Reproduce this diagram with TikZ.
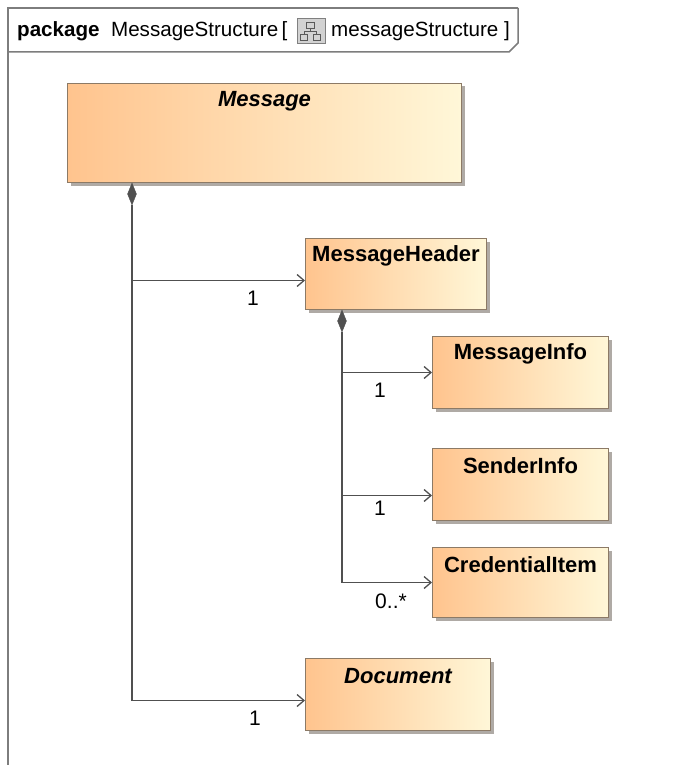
\documentclass[tikz,border=0pt]{standalone}
\usepackage{fontspec}
\setmainfont{Liberation Sans}
\usetikzlibrary{positioning,shapes.geometric,shadows,arrows.meta}

\definecolor{boxleft}{RGB}{255,196,142}
\definecolor{boxright}{RGB}{255,247,216}
\definecolor{boxline}{RGB}{140,122,102}
\definecolor{shadowgray}{RGB}{175,170,165}
\definecolor{linegray}{RGB}{80,80,80}
\definecolor{framegray}{RGB}{125,125,125}

\tikzset{
  classbox/.style={draw=boxline, line width=1pt, left color=boxleft, right color=boxright,
    drop shadow={shadow xshift=3pt, shadow yshift=-3pt, fill=shadowgray, opacity=1},
    anchor=north west, inner sep=0pt},
  title/.style={anchor=center, yshift=-18pt, font=\fontsize{22}{26}\selectfont\bfseries},
  comp/.style={diamond, fill=linegray, draw=linegray, inner sep=0pt,
    minimum width=9pt, minimum height=22pt},
  assoc/.style={draw=linegray, line width=1.3pt, -{Straight Barb[length=7pt,width=12pt]}},
  mult/.style={font=\fontsize{21}{25}\selectfont, inner sep=0pt},
  headtext/.style={anchor=west, inner sep=0pt, font=\fontsize{20.6}{25}\selectfont},
}

\begin{document}
\begin{tikzpicture}[x=1pt, y=-1pt]
  \useasboundingbox (0,0) rectangle (685,765);

  % package frame and its tab
  \draw[framegray, line width=2pt] (8,770) -- (8,8) -- (518,8);
  \draw[framegray, line width=1.5pt] (518,8) -- (518,43) -- (509,52) -- (8,52);
  \node[headtext] (pkg) at (17,31) {\textbf{package}\ \ MessageStructure\,[};
  \node[draw=gray, fill=gray!35, minimum width=28pt, minimum height=25pt, inner sep=0pt,
    right=9pt of pkg] (icon) {};
  \node[headtext, right=6pt of icon] (diag) {messageStructure ]};
  % little tree inside the icon
  \draw[gray!70!black, line width=0.8pt]
    ([shift={(-4pt,3pt)}]icon.center) rectangle ([shift={(4pt,9pt)}]icon.center)
    ([shift={(-10pt,-9pt)}]icon.center) rectangle ([shift={(-3pt,-3pt)}]icon.center)
    ([shift={(3pt,-9pt)}]icon.center) rectangle ([shift={(10pt,-3pt)}]icon.center)
    ([shift={(0pt,3pt)}]icon.center) -- ([shift={(0pt,0pt)}]icon.center)
    ([shift={(-6pt,-3pt)}]icon.center) |- ([shift={(6pt,0pt)}]icon.center) -- ([shift={(6pt,-3pt)}]icon.center);

  % classes
  \node[classbox, minimum width=394pt, minimum height=99pt,
    label={[title]north:\itshape Message}] (msg) at (67,83) {};
  \node[classbox, minimum width=181pt, minimum height=71pt,
    label={[title]north:MessageHeader}] (hdr) at (305,238) {};
  \node[classbox, minimum width=176pt, minimum height=72pt,
    label={[title]north:MessageInfo}] (info) at (432,336) {};
  \node[classbox, minimum width=176pt, minimum height=72pt,
    label={[title]north:SenderInfo}] (sender) at (432,448) {};
  \node[classbox, minimum width=176pt, minimum height=70pt,
    label={[title]north:CredentialItem}] (cred) at (432,547) {};
  \node[classbox, minimum width=185pt, minimum height=72pt,
    label={[title]north:\itshape Document}] (doc) at (305,658) {};

  % composition diamonds
  \node[comp] (msgDia) at (132,194) {};
  \node[comp] (hdrDia) at (342,321) {};

  % associations
  \draw[assoc] (msgDia.south) |- ([yshift=-6.5pt]hdr.west);
  \draw[assoc] (msgDia.south) |- ([yshift=-6pt]doc.west);
  \draw[assoc] (hdrDia.south) |- (info.west);
  \draw[assoc] (hdrDia.south) |- ([yshift=-11pt]sender.west);
  \draw[assoc] (hdrDia.south) |- (cred.west);

  % multiplicities
  \node[mult] (mHdr) at (253,298) {1};
  \node[mult] (mInfo) at (380,390) {1};
  \node[mult] (mSender) at (380,508) {1};
  \node[mult] (mCred) at (391,601) {0..*};
  \node[mult] (mDoc) at (255,718) {1};
\end{tikzpicture}
\end{document}
